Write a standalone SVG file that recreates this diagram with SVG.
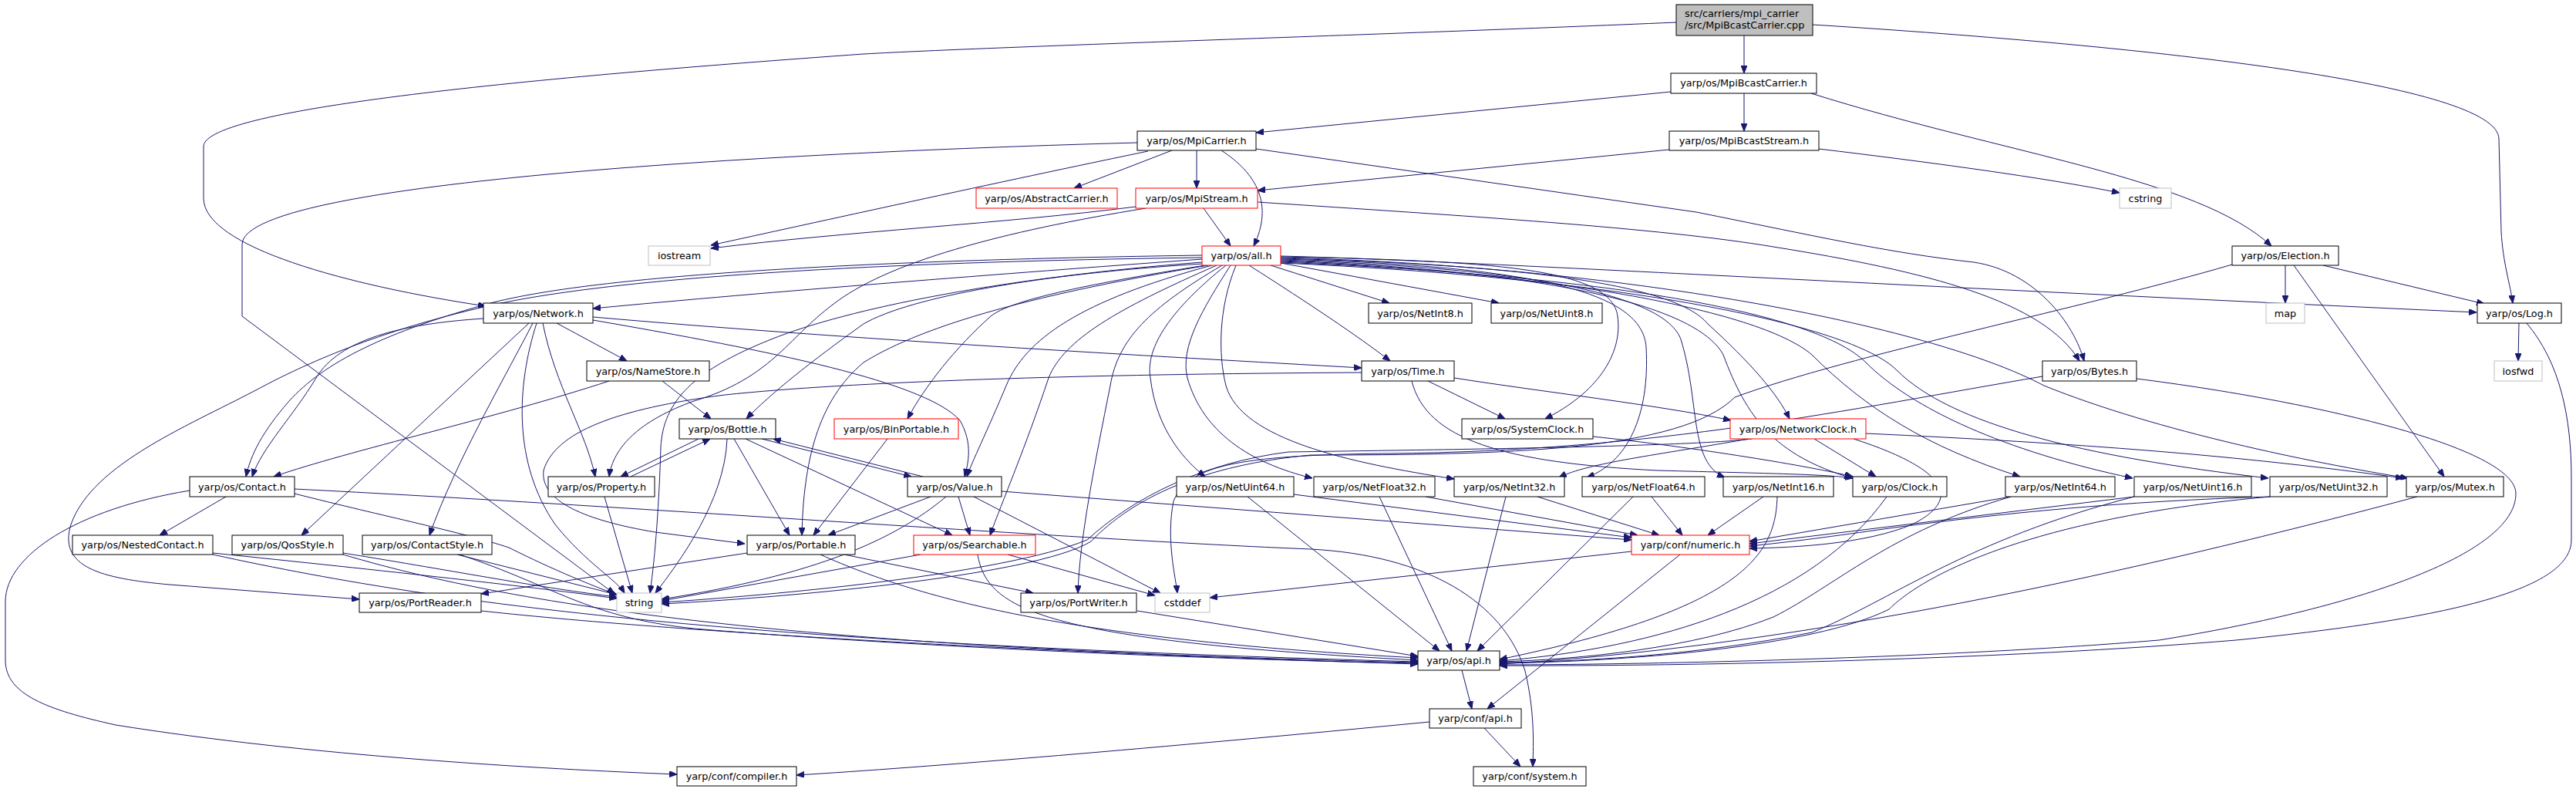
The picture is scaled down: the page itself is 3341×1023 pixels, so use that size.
<svg xmlns="http://www.w3.org/2000/svg" width="3341" height="1023" viewBox="0 0 3341 1023">
<defs>
<marker id="a" markerWidth="10" markerHeight="8" refX="10" refY="4" orient="auto" markerUnits="userSpaceOnUse"><path d="M0,0 L10,4 L0,8 z" fill="#191970" stroke="#191970" stroke-width="1"/></marker>
<style>
.n rect{fill:#fff;stroke:#000;stroke-width:1}
.g rect{stroke:#bfbfbf}
.r rect{stroke:#ff0000}
text{font-family:"DejaVu Sans","Liberation Sans",sans-serif;font-size:12.8px;text-anchor:middle;fill:#000}
.e path{fill:none;stroke:#191970;stroke-width:1;marker-end:url(#a)}
</style>
</defs>
<rect width="3341" height="1023" fill="#fff"/>
<g id="edges" class="e">
<path d="M2262,46 L2262,95"/>
<path d="M2174,29 C1800,45 1300,60 1120,70 C700,100 264,140 264,190 L264,257 C264,320 450,370 630,397"/>
<path d="M2351,32 C2800,60 3240,110 3241,180 L3244,300 C3246,340 3256,370 3259,393"/>
<path d="M2167,119 L1629,172"/>
<path d="M2262,121 L2262,170"/>
<path d="M2349,121 C2600,200 2850,230 2946,319"/>
<path d="M1520,195 L1393,244"/>
<path d="M1552,195 L1552,244"/>
<path d="M1584,195 C1630,225 1652,265 1626,319"/>
<path d="M1489,196 C1300,235 1050,290 922,318"/>
<path d="M1475,185 C1100,195 314,230 314,317 L314,410 L797,770"/>
<path d="M1629,193 L2200,275 C2350,305 2450,328 2560,340 C2640,352 2690,420 2703,468"/>
<path d="M2165,194 L1631,247"/>
<path d="M2359,193 C2500,210 2650,230 2749,250"/>
<path d="M1473,268 C1300,290 1100,300 922,322"/>
<path d="M1561,270 L1596,319"/>
<path d="M1631,262 C1900,280 2150,295 2300,320 C2500,352 2650,390 2697,468"/>
<path d="M1486,270 C1300,300 1150,340 1080,395 C1020,440 1000,490 900,520 C830,545 795,580 790,618"/>
<path d="M1559,336 C1300,355 1000,378 769,400"/>
<path d="M1559,331 C1200,336 800,352 640,392 C500,430 420,470 375,520 C340,560 325,590 319,618"/>
<path d="M1559,334 C1250,338 850,352 650,393 C500,425 400,470 343,500 C250,550 120,600 92,680 C75,735 130,750 220,758 L466,777"/>
<path d="M1559,340 C1300,360 1100,400 1000,440 C900,480 860,520 857,580 C855,650 850,720 843,769"/>
<path d="M1560,342 C1350,355 1180,385 1120,420 C1050,470 1000,510 968,543"/>
<path d="M1563,344 C1400,370 1310,390 1285,410 C1240,450 1200,500 1177,543"/>
<path d="M1567,344 C1350,380 1200,420 1120,470 C1060,520 1042,600 1040,694"/>
<path d="M1572,344 C1400,390 1330,440 1305,500 C1280,560 1260,600 1254,618"/>
<path d="M1578,344 C1450,400 1380,440 1360,490 C1330,580 1300,650 1284,694"/>
<path d="M1585,344 C1490,400 1450,440 1440,500 C1420,600 1400,700 1398,769"/>
<path d="M1590,344 C1520,400 1485,450 1492,490 C1500,560 1540,600 1563,618"/>
<path d="M1596,344 C1560,400 1530,450 1540,490 C1560,560 1620,600 1702,620"/>
<path d="M1603,344 C1580,400 1580,460 1590,500 C1610,570 1750,600 1886,621"/>
<path d="M1648,344 L1802,393"/>
<path d="M1661,341 L1944,393"/>
<path d="M1620,344 C1700,395 1760,435 1803,468"/>
<path d="M1661,333 C1950,338 2090,350 2098,410 C2105,460 2070,510 2004,543"/>
<path d="M1661,332 C1900,338 2400,368 3212,405"/>
<path d="M1661,335 C1950,343 2170,365 2215,420 C2270,470 2305,510 2321,543"/>
<path d="M1661,336 C2000,345 2130,380 2135,450 C2140,540 2110,600 2058,619"/>
<path d="M1661,337 C2000,348 2160,385 2180,440 C2205,520 2190,600 2237,619"/>
<path d="M1661,338 C2000,350 2200,395 2235,460 C2265,540 2300,590 2402,620"/>
<path d="M1661,339 C2000,352 2280,400 2350,460 C2420,530 2500,580 2620,618"/>
<path d="M1661,340 C2050,356 2350,400 2420,470 C2480,530 2600,585 2766,620"/>
<path d="M1661,341 C2100,360 2400,420 2460,480 C2530,550 2700,592 2942,620"/>
<path d="M1661,334 C2100,345 2500,420 2651,500 C2800,560 3000,600 3123,620"/>
<path d="M627,413 C520,420 440,440 410,490 C380,540 340,580 327,618"/>
<path d="M722,419 L813,468"/>
<path d="M769,411 C1100,440 1500,462 1766,477"/>
<path d="M769,415 C1000,455 1200,495 1245,545 C1262,575 1256,600 1251,618"/>
<path d="M686,419 L391,694"/>
<path d="M691,419 C660,480 590,600 557,694"/>
<path d="M696,419 C670,500 665,600 720,680 C760,730 800,752 810,769"/>
<path d="M704,419 C720,500 760,560 772,618"/>
<path d="M790,494 C650,540 450,585 355,618"/>
<path d="M859,494 L922,543"/>
<path d="M1852,494 L1952,543"/>
<path d="M1886,490 C2000,508 2150,525 2245,545"/>
<path d="M1766,483 C1400,485 1100,495 940,512 C800,530 720,560 705,610 C700,650 760,675 850,690 L966,705"/>
<path d="M1831,494 C1850,570 1950,600 2150,610 C2300,614 2370,615 2403,620"/>
<path d="M2066,566 C2200,580 2350,605 2403,618"/>
<path d="M906,569 L805,618"/>
<path d="M818,618 L921,569"/>
<path d="M952,569 L1024,694"/>
<path d="M967,569 L1235,694"/>
<path d="M943,569 C940,650 880,730 850,769"/>
<path d="M988,569 L1182,618"/>
<path d="M1197,618 L1003,569"/>
<path d="M784,644 L820,769"/>
<path d="M1151,569 L1055,694"/>
<path d="M1207,644 L1074,694"/>
<path d="M1243,644 L1258,694"/>
<path d="M1227,644 C1160,700 1060,745 858,777"/>
<path d="M1263,644 L1505,769"/>
<path d="M1299,637 L2116,700"/>
<path d="M969,717 L624,770"/>
<path d="M1095,719 L1340,769"/>
<path d="M1064,719 C1200,780 1400,830 1839,853"/>
<path d="M1194,719 L858,779"/>
<path d="M1307,719 L1498,772"/>
<path d="M1268,719 C1280,790 1350,830 1839,856"/>
<path d="M293,644 L207,694"/>
<path d="M382,640 C500,670 600,690 660,710 C720,740 770,760 800,771"/>
<path d="M382,634 C800,655 1400,700 1700,712 C1850,720 1950,780 1978,870 C1990,920 1989,960 1988,994"/>
<path d="M246,636 C100,660 7,720 7,780 L7,856 C7,900 60,920 150,940 C400,980 700,997 878,1004"/>
<path d="M276,717 C500,740 700,762 800,776"/>
<path d="M276,719 C600,790 1000,835 1839,858"/>
<path d="M445,717 C600,742 700,762 800,774"/>
<path d="M445,719 C700,795 1100,842 1839,859"/>
<path d="M593,719 L800,771"/>
<path d="M596,719 C720,760 760,800 900,815 C1200,840 1600,856 1839,860"/>
<path d="M624,792 C900,822 1400,848 1839,861"/>
<path d="M1475,792 L1839,851"/>
<path d="M1678,641 L2116,697"/>
<path d="M1849,644 L2124,694"/>
<path d="M1994,644 L2152,694"/>
<path d="M2142,644 L2182,694"/>
<path d="M2287,644 L2215,694"/>
<path d="M2608,644 L2269,702"/>
<path d="M2768,644 L2269,705"/>
<path d="M2944,644 C2750,650 2600,665 2450,685 C2380,695 2320,703 2269,708"/>
<path d="M2404,569 C2500,600 2560,640 2480,680 C2420,705 2330,710 2269,711"/>
<path d="M1618,644 L1867,844"/>
<path d="M1789,644 L1883,844"/>
<path d="M1953,644 L1902,844"/>
<path d="M2118,644 L1916,844"/>
<path d="M2305,644 C2303,720 2260,790 1945,855"/>
<path d="M2447,644 C2350,780 2150,840 1945,857"/>
<path d="M2608,644 C2450,690 2380,760 2300,800 C2200,840 2050,855 1945,858"/>
<path d="M2768,644 C2550,700 2450,780 2350,820 C2200,850 2050,858 1945,859"/>
<path d="M2944,644 C2650,670 2500,740 2450,790 C2350,840 2100,858 1945,860"/>
<path d="M3135,644 C2700,760 2300,840 1945,861"/>
<path d="M2771,491 C3000,520 3263,580 3263,640 C3263,720 3050,790 2800,830 C2500,855 2100,862 1945,862"/>
<path d="M3277,419 C3320,470 3335,540 3335,620 L3335,700 C3335,760 3200,800 2900,830 C2600,855 2200,864 1945,863"/>
<path d="M2116,715 L1569,775"/>
<path d="M2179,719 L1929,919"/>
<path d="M1896,869 L1909,919"/>
<path d="M1854,936 C1500,970 1200,995 1033,1005"/>
<path d="M1925,944 L1972,994"/>
<path d="M2353,569 L2433,618"/>
<path d="M2268,569 C2150,590 2060,600 2022,619"/>
<path d="M2420,562 C2700,575 2900,590 3117,620"/>
<path d="M2272,569 C2200,578 1950,582 1671,586 C1560,600 1470,645 1410,700 C1300,745 1000,772 858,781"/>
<path d="M2649,488 C2400,530 2150,585 1800,588 C1600,590 1540,605 1522,650 C1512,700 1525,750 1527,769"/>
<path d="M2964,344 L2964,393"/>
<path d="M3013,344 L3222,394"/>
<path d="M2975,344 L3170,618"/>
<path d="M2895,343 C2700,400 2400,460 2250,515 C2180,585 1950,590 1700,590 C1560,603 1470,645 1415,702 C1340,748 1000,776 858,783"/>
<path d="M3267,419 L3266,468"/>
</g>
<g id="n_root" class="n"><rect x="2174" y="6" width="177" height="40" style="fill:#bfbfbf"/><text x="2185" y="21.5" style="text-anchor:start">src/carriers/mpi_carrier</text><text x="2185" y="36.5" style="text-anchor:start">/src/MpiBcastCarrier.cpp</text></g>
<g id="n_MpiBcastCarrier" class="n"><rect x="2167" y="95" width="189" height="26"/><text x="2261.5" y="112">yarp/os/MpiBcastCarrier.h</text></g>
<g id="n_MpiCarrier" class="n"><rect x="1475" y="170" width="154" height="25"/><text x="1552" y="187">yarp/os/MpiCarrier.h</text></g>
<g id="n_MpiBcastStream" class="n"><rect x="2165" y="170" width="194" height="25"/><text x="2262" y="187">yarp/os/MpiBcastStream.h</text></g>
<g id="n_AbstractCarrier" class="n r"><rect x="1266" y="244" width="183" height="26"/><text x="1357.5" y="262">yarp/os/AbstractCarrier.h</text></g>
<g id="n_MpiStream" class="n r"><rect x="1473" y="244" width="158" height="26"/><text x="1552" y="262">yarp/os/MpiStream.h</text></g>
<g id="n_cstring" class="n g"><rect x="2749" y="244" width="67" height="26"/><text x="2782.5" y="262">cstring</text></g>
<g id="n_iostream" class="n g"><rect x="841" y="319" width="80" height="25"/><text x="881" y="336">iostream</text></g>
<g id="n_all" class="n r"><rect x="1559" y="319" width="102" height="25"/><text x="1610" y="336">yarp/os/all.h</text></g>
<g id="n_Election" class="n"><rect x="2895" y="319" width="138" height="25"/><text x="2964" y="336">yarp/os/Election.h</text></g>
<g id="n_Network" class="n"><rect x="627" y="393" width="142" height="26"/><text x="698" y="411">yarp/os/Network.h</text></g>
<g id="n_NetInt8" class="n"><rect x="1775" y="393" width="134" height="26"/><text x="1842" y="411">yarp/os/NetInt8.h</text></g>
<g id="n_NetUint8" class="n"><rect x="1934" y="393" width="144" height="26"/><text x="2006" y="411">yarp/os/NetUint8.h</text></g>
<g id="n_map" class="n g"><rect x="2939" y="393" width="50" height="26"/><text x="2964" y="411">map</text></g>
<g id="n_Log" class="n"><rect x="3213" y="393" width="109" height="26"/><text x="3267.5" y="411">yarp/os/Log.h</text></g>
<g id="n_NameStore" class="n"><rect x="761" y="468" width="159" height="26"/><text x="840.5" y="486">yarp/os/NameStore.h</text></g>
<g id="n_Time" class="n"><rect x="1766" y="468" width="120" height="26"/><text x="1826" y="486">yarp/os/Time.h</text></g>
<g id="n_Bytes" class="n"><rect x="2649" y="468" width="122" height="26"/><text x="2710" y="486">yarp/os/Bytes.h</text></g>
<g id="n_iosfwd" class="n g"><rect x="3235" y="468" width="62" height="26"/><text x="3266" y="486">iosfwd</text></g>
<g id="n_Bottle" class="n"><rect x="881" y="543" width="125" height="26"/><text x="943.5" y="561">yarp/os/Bottle.h</text></g>
<g id="n_BinPortable" class="n r"><rect x="1082" y="543" width="161" height="26"/><text x="1162.5" y="561">yarp/os/BinPortable.h</text></g>
<g id="n_SystemClock" class="n"><rect x="1896" y="543" width="170" height="26"/><text x="1981" y="561">yarp/os/SystemClock.h</text></g>
<g id="n_NetworkClock" class="n r"><rect x="2244" y="543" width="176" height="26"/><text x="2332" y="561">yarp/os/NetworkClock.h</text></g>
<g id="n_Contact" class="n"><rect x="246" y="618" width="136" height="26"/><text x="314" y="636">yarp/os/Contact.h</text></g>
<g id="n_Property" class="n"><rect x="711" y="618" width="138" height="26"/><text x="780" y="636">yarp/os/Property.h</text></g>
<g id="n_Value" class="n"><rect x="1177" y="618" width="122" height="26"/><text x="1238" y="636">yarp/os/Value.h</text></g>
<g id="n_NetUint64" class="n"><rect x="1526" y="618" width="152" height="26"/><text x="1602" y="636">yarp/os/NetUint64.h</text></g>
<g id="n_NetFloat32" class="n"><rect x="1704" y="618" width="157" height="26"/><text x="1782.5" y="636">yarp/os/NetFloat32.h</text></g>
<g id="n_NetInt32" class="n"><rect x="1886" y="618" width="143" height="26"/><text x="1957.5" y="636">yarp/os/NetInt32.h</text></g>
<g id="n_NetFloat64" class="n"><rect x="2052" y="618" width="159" height="26"/><text x="2131.5" y="636">yarp/os/NetFloat64.h</text></g>
<g id="n_NetInt16" class="n"><rect x="2235" y="618" width="143" height="26"/><text x="2306.5" y="636">yarp/os/NetInt16.h</text></g>
<g id="n_Clock" class="n"><rect x="2403" y="618" width="122" height="26"/><text x="2464" y="636">yarp/os/Clock.h</text></g>
<g id="n_NetInt64" class="n"><rect x="2601" y="618" width="142" height="26"/><text x="2672" y="636">yarp/os/NetInt64.h</text></g>
<g id="n_NetUint16" class="n"><rect x="2768" y="618" width="152" height="26"/><text x="2844" y="636">yarp/os/NetUint16.h</text></g>
<g id="n_NetUint32" class="n"><rect x="2944" y="618" width="152" height="26"/><text x="3020" y="636">yarp/os/NetUint32.h</text></g>
<g id="n_Mutex" class="n"><rect x="3121" y="618" width="126" height="26"/><text x="3184" y="636">yarp/os/Mutex.h</text></g>
<g id="n_NestedContact" class="n"><rect x="94" y="694" width="182" height="25"/><text x="185" y="711">yarp/os/NestedContact.h</text></g>
<g id="n_QosStyle" class="n"><rect x="301" y="694" width="144" height="25"/><text x="373" y="711">yarp/os/QosStyle.h</text></g>
<g id="n_ContactStyle" class="n"><rect x="470" y="694" width="168" height="25"/><text x="554" y="711">yarp/os/ContactStyle.h</text></g>
<g id="n_Portable" class="n"><rect x="969" y="694" width="140" height="25"/><text x="1039" y="711">yarp/os/Portable.h</text></g>
<g id="n_Searchable" class="n r"><rect x="1185" y="694" width="158" height="25"/><text x="1264" y="711">yarp/os/Searchable.h</text></g>
<g id="n_numeric" class="n r"><rect x="2116" y="694" width="153" height="25"/><text x="2192.5" y="711">yarp/conf/numeric.h</text></g>
<g id="n_PortReader" class="n"><rect x="466" y="769" width="158" height="25"/><text x="545" y="786">yarp/os/PortReader.h</text></g>
<g id="n_string" class="n g"><rect x="800" y="769" width="58" height="25"/><text x="829" y="786">string</text></g>
<g id="n_PortWriter" class="n"><rect x="1324" y="769" width="150" height="25"/><text x="1399" y="786">yarp/os/PortWriter.h</text></g>
<g id="n_cstddef" class="n g"><rect x="1498" y="769" width="71" height="25"/><text x="1533.5" y="786">cstddef</text></g>
<g id="n_os_api" class="n"><rect x="1839" y="844" width="106" height="25"/><text x="1892" y="861">yarp/os/api.h</text></g>
<g id="n_conf_api" class="n"><rect x="1854" y="919" width="119" height="25"/><text x="1913.5" y="936">yarp/conf/api.h</text></g>
<g id="n_compiler" class="n"><rect x="878" y="994" width="155" height="25"/><text x="955.5" y="1011">yarp/conf/compiler.h</text></g>
<g id="n_system" class="n"><rect x="1911" y="994" width="146" height="25"/><text x="1984" y="1011">yarp/conf/system.h</text></g>
</svg>
